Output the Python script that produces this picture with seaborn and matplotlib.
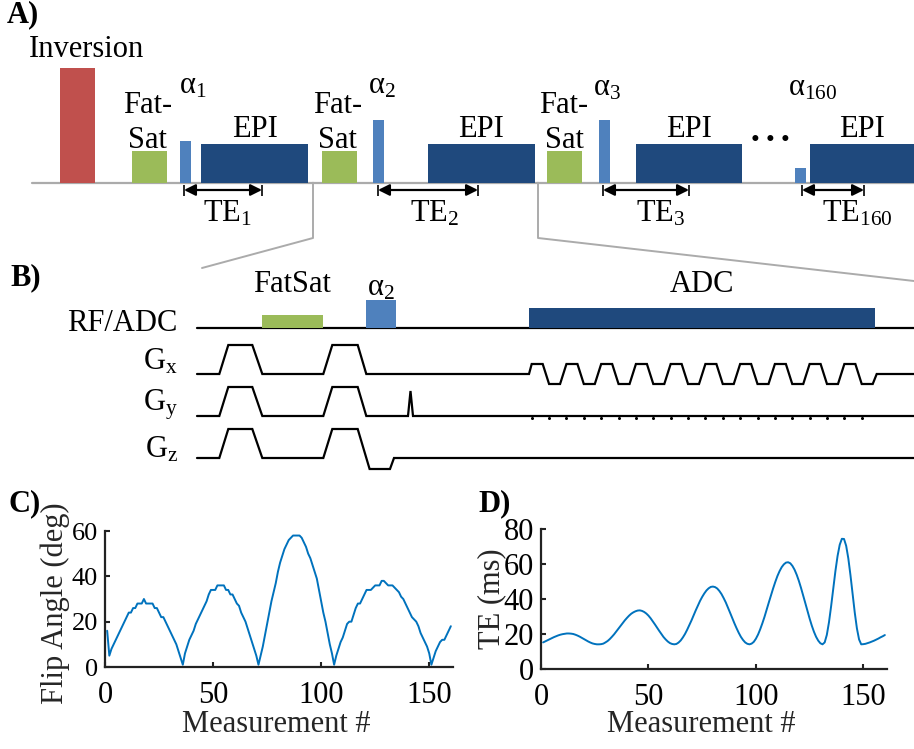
import matplotlib
matplotlib.use("Agg")
import matplotlib.pyplot as plt
from matplotlib.patches import Rectangle
import seaborn as sns

# ---------------------------------------------------------------- data
measurement = list(range(1, 161))

flip_angle = [
    16, 5, 8, 10, 12, 14, 16, 18, 20, 22,
    24, 24, 26, 26, 28, 28, 28, 30, 28, 28,
    28, 28, 26, 26, 24, 22, 22, 20, 18, 16,
    14, 12, 10, 7, 4, 1, 6, 9, 12, 14,
    16, 19, 21, 23, 25, 27, 29, 32, 34, 34,
    34, 36, 36, 36, 36, 34, 34, 32, 32, 30,
    28, 27, 24, 22, 20, 17, 14, 11, 8, 5,
    1, 5, 9, 14, 19, 24, 29, 33, 37, 42,
    46, 49, 52, 54, 56, 57, 58, 58, 58, 58,
    57, 55, 53, 50, 48, 45, 42, 39, 34, 29,
    24, 20, 15, 10, 6, 1, 5, 8, 11, 13,
    16, 19, 20, 20, 23, 26, 28, 28, 30, 32,
    34, 34, 34, 35, 36, 36, 36, 38, 38, 37,
    36, 36, 36, 35, 34, 33, 31, 30, 28, 26,
    24, 22, 21, 20, 18, 15, 13, 11, 9, 6,
    1, 4, 7, 9, 11, 12, 12, 14, 16, 18,
]

echo_time = [
    15.2, 15.8, 16.4, 17.0, 17.6, 18.2, 18.7, 19.2, 19.6, 19.9,
    20.1, 20.3, 20.3, 20.2, 20.0, 19.6, 19.1, 18.5, 17.8, 17.1,
    16.4, 15.7, 15.1, 14.6, 14.3, 14.1, 14.1, 14.2, 14.5, 15.2,
    16.0, 17.1, 18.4, 19.8, 21.4, 23.0, 24.6, 26.2, 27.8, 29.2,
    30.5, 31.6, 32.4, 33.0, 33.4, 33.5, 33.2, 32.6, 31.7, 30.5,
    29.0, 27.3, 25.5, 23.6, 21.8, 20.0, 18.3, 16.9, 15.7, 14.8,
    14.3, 14.1, 14.3, 15.1, 16.3, 18.0, 20.0, 22.4, 25.0, 27.7,
    30.6, 33.5, 36.2, 38.9, 41.2, 43.2, 44.9, 46.1, 46.9, 47.1,
    46.8, 46.0, 44.6, 42.8, 40.5, 38.0, 35.1, 32.1, 29.1, 26.1,
    23.3, 20.7, 18.4, 16.6, 15.2, 14.4, 14.1, 14.5, 15.5, 17.3,
    19.7, 22.7, 26.1, 29.8, 33.8, 38.0, 42.1, 46.0, 49.7, 53.1,
    55.9, 58.2, 59.8, 60.8, 61.0, 60.4, 58.9, 56.7, 53.8, 50.3,
    46.3, 42.0, 37.6, 33.1, 28.8, 24.8, 21.3, 18.4, 16.2, 14.7,
    14.1, 15.2, 19.5, 26.7, 35.9, 46.0, 56.0, 64.6, 71.0, 74.4,
    74.3, 70.4, 63.2, 53.6, 42.8, 32.2, 23.2, 16.9, 14.1, 14.2,
    14.4, 14.8, 15.2, 15.7, 16.2, 16.8, 17.4, 18.1, 18.7, 19.4,
]

# Sequence timeline (schematic units along the page)
inversion_span = (60, 95)
fatsat_starts = [132, 322, 547]
fatsat_ends = [167, 357, 582]
alpha_starts = [180, 373, 599, 795]
alpha_ends = [191, 384, 610, 806]
alpha_tops = [141, 120, 120, 168]
alpha_names = ["1", "2", "3", "160"]
epi_starts = [201, 428, 636, 810]
epi_ends = [308, 535, 742, 914]
te_starts = [184, 378, 603, 802]
te_ends = [262, 478, 689, 864]

# Gradient timing of the zoomed repetition
spoiler_ramps = [(219.3, 228.3, 252.3, 262.3), (323.3, 332.3, 357.7, 366.3)]
readout_polarity = [1, -1] * 10

# ---------------------------------------------------------------- style
sns.set_theme(style="ticks")
plt.rcParams["font.family"] = ["Liberation Serif", "DejaVu Serif"]
plt.rcParams["mathtext.fontset"] = "custom"
plt.rcParams["mathtext.rm"] = "Liberation Serif"
plt.rcParams["mathtext.it"] = "Liberation Serif:italic"
plt.rcParams["mathtext.bf"] = "Liberation Serif:bold"

FS = 22
RED, GREEN, LBLUE, DBLUE = "#C0504D", "#9BBB59", "#4F81BD", "#1F497D"
GREY = "#ABABAB"
LINE = "#0072BD"

W, H = 914, 749
fig = plt.figure(figsize=(W / 100, H / 100), dpi=100)
cv = fig.add_axes([0, 0, 1, 1])
cv.set_xlim(0, W)
cv.set_ylim(H, 0)
cv.axis("off")


def block(x0, x1, top, base, color, z=3):
    cv.add_patch(Rectangle((x0, top), x1 - x0, base - top, color=color,
                           lw=0, zorder=z))


def label(x, y, s, ha="left", va="baseline", **kw):
    cv.text(x, y, s, ha=ha, va=va, fontsize=kw.pop("fontsize", FS), color="black", **kw)


# ---------------------------------------------------------------- panel A
BASE_A = 182.7
cv.plot([32, W], [BASE_A, BASE_A], color=GREY, lw=1.6, zorder=1)
block(*inversion_span, 68, BASE_A, RED)
label(29, 57, "Inversion")
for x0, x1 in zip(fatsat_starts, fatsat_ends):
    block(x0, x1, 151, BASE_A, GREEN)
    c = (x0 + x1) / 2 - 2 if x0 < 500 else (x0 + x1) / 2 - 0.5
    label(c, 113, "Fat-", ha="center")
    label(c, 148, "Sat", ha="center")
for x0, x1, top, nm in zip(alpha_starts, alpha_ends, alpha_tops, alpha_names):
    block(x0, x1, top, BASE_A, LBLUE)
alpha_label_x = [179, 368, 593, 788]
alpha_label_y = [93, 94, 95, 96]
for x, y, nm in zip(alpha_label_x, alpha_label_y, alpha_names):
    label(x, y, "α$_{\\mathrm{%s}}$" % nm)
for x0, x1 in zip(epi_starts, epi_ends):
    block(x0, x1, 144, BASE_A, DBLUE)
for cx in [255, 481, 689, 862]:
    label(cx, 137, "EPI", ha="center")
label(770, 147, "• • •", ha="center", fontsize=18)

for x0, x1, nm, lx in zip(te_starts, te_ends, alpha_names, [203, 410, 636, 822]):
    cv.annotate("", xy=(x1, 190), xytext=(x0, 190),
                arrowprops=dict(arrowstyle="<|-|>", color="black", lw=1.6,
                                mutation_scale=17, shrinkA=0, shrinkB=0))
    cv.vlines([x0, x1], 185, 196, color="black", lw=1.2)
    label(lx, 221, "TE$_{\\mathrm{%s}}$" % nm)

# zoom guides
cv.plot([313, 313, 202], [BASE_A, 238, 268], color=GREY, lw=1.4, zorder=1)
cv.plot([538, 538, W], [BASE_A, 238, 281], color=GREY, lw=1.4, zorder=1)

label(7, 22, "A)", fontweight="bold")

# ---------------------------------------------------------------- panel B
label(10, 285, "B)", fontweight="bold")
RF, GX, GY, GZ = 328, 374, 416, 458
X0 = 197
kw = dict(color="black", lw=1.6, solid_joinstyle="miter", zorder=4)

cv.plot([X0, W], [RF, RF], **kw)
block(262, 323, 315, RF, GREEN, z=5)
block(366, 396, 300, RF, LBLUE, z=5)
block(529, 875, 308, RF, DBLUE, z=5)
label(177, 331, "RF/ADC", ha="right")
label(292, 292, "FatSat", ha="center")
label(367, 295, "α$_{\\mathrm{2}}$")
label(702, 292, "ADC", ha="center")


def spoilers(base):
    xs, ys = [X0], [base]
    for a, b, c, d in spoiler_ramps:
        xs += [a, b, c, d]
        ys += [base, base - 29, base - 29, base]
    return xs, ys


# Gx: spoilers then EPI readout train
gx_x, gx_y = spoilers(GX)
gx_x += [529, 531.7]
gx_y += [GX, GX - 10]
esp, flat = 17.37, 11.0
for k, pol in enumerate(readout_polarity):
    s = 531.7 + k * esp
    gx_x += [s, s + flat]
    gx_y += [GX - 10 * pol, GX - 10 * pol]
gx_x += [876.7, W]
gx_y += [GX, GX]
cv.plot(gx_x, gx_y, **kw)

# Gy: spoilers, phase-encode prephaser and blips
gy_x, gy_y = spoilers(GY)
gy_x += [408, 410.5, 413, W]
gy_y += [GY, GY - 25, GY, GY]
cv.plot(gy_x, gy_y, **kw)
blip_x = [531.7 + k * esp for k in range(len(readout_polarity))]
cv.plot(blip_x, [GY + 1.8] * len(blip_x), "o", color="black", ms=2.2,
        mew=0, zorder=4)

# Gz: spoilers with slice rephaser
gz_x, gz_y = spoilers(GZ)
gz_x = gz_x[:-1] + [369.6, 390, 394, W]
gz_y = gz_y[:-1] + [GZ + 11, GZ + 11, GZ, GZ]
cv.plot(gz_x, gz_y, **kw)

label(178, 370, "G$_{\\mathrm{x}}$", ha="right")
label(178, 410, "G$_{\\mathrm{y}}$", ha="right")
label(178, 458, "G$_{\\mathrm{z}}$", ha="right")

# ---------------------------------------------------------------- panels C, D


def make_axes(left, right, bottom, top):
    return fig.add_axes([left / W, (H - bottom) / H, (right - left) / W,
                         (bottom - top) / H])


def style(ax, ysize):
    sns.despine(ax=ax)
    for sp in ("left", "bottom"):
        ax.spines[sp].set_linewidth(1.6)
        ax.spines[sp].set_color("#222222")
    ax.tick_params(direction="in", length=3.5, width=1.5, labelsize=FS,
                   colors="#222222", labelcolor="black")
    ax.tick_params(axis="x", pad=10)
    ax.tick_params(axis="y", pad=5, labelsize=ysize)
    ax.set_facecolor("none")


axC = make_axes(105, 453, 667, 531)
sns.lineplot(x=measurement, y=flip_angle, ax=axC, color=LINE, lw=1.4)
axC.set_xlim(0, 161)
axC.set_ylim(0, 60)
axC.set_xticks([0, 50, 100, 150])
axC.set_yticks([0, 20, 40, 60])
style(axC, 19)
axC.set_xlabel("Measurement #", fontsize=FS, va="center", ha="center")
axC.set_ylabel("Flip Angle (deg)", fontsize=FS, va="center", ha="center",
               rotation_mode="default")
axC.xaxis.set_label_coords((276 - 105) / 348, (667 - 724) / 136)
axC.yaxis.set_label_coords((55 - 105) / 348, (667 - 603) / 136)

axD = make_axes(541, 887, 669, 529)
sns.lineplot(x=measurement, y=echo_time, ax=axD, color=LINE, lw=1.4)
axD.set_xlim(0, 161)
axD.set_ylim(0, 80)
axD.set_xticks([0, 50, 100, 150])
axD.set_yticks([0, 20, 40, 60, 80])
style(axD, FS)
axD.set_xlabel("Measurement #", fontsize=FS, va="center", ha="center")
axD.set_ylabel("TE (ms)", fontsize=FS, va="center", ha="center",
               rotation_mode="default")
axD.xaxis.set_label_coords((701 - 541) / 346, (669 - 724) / 140)
axD.yaxis.set_label_coords((492 - 541) / 346, (669 - 599) / 140)

label(8, 511, "C)", fontweight="bold")
label(478, 511, "D)", fontweight="bold")

fig.savefig("out.png", dpi=100)
